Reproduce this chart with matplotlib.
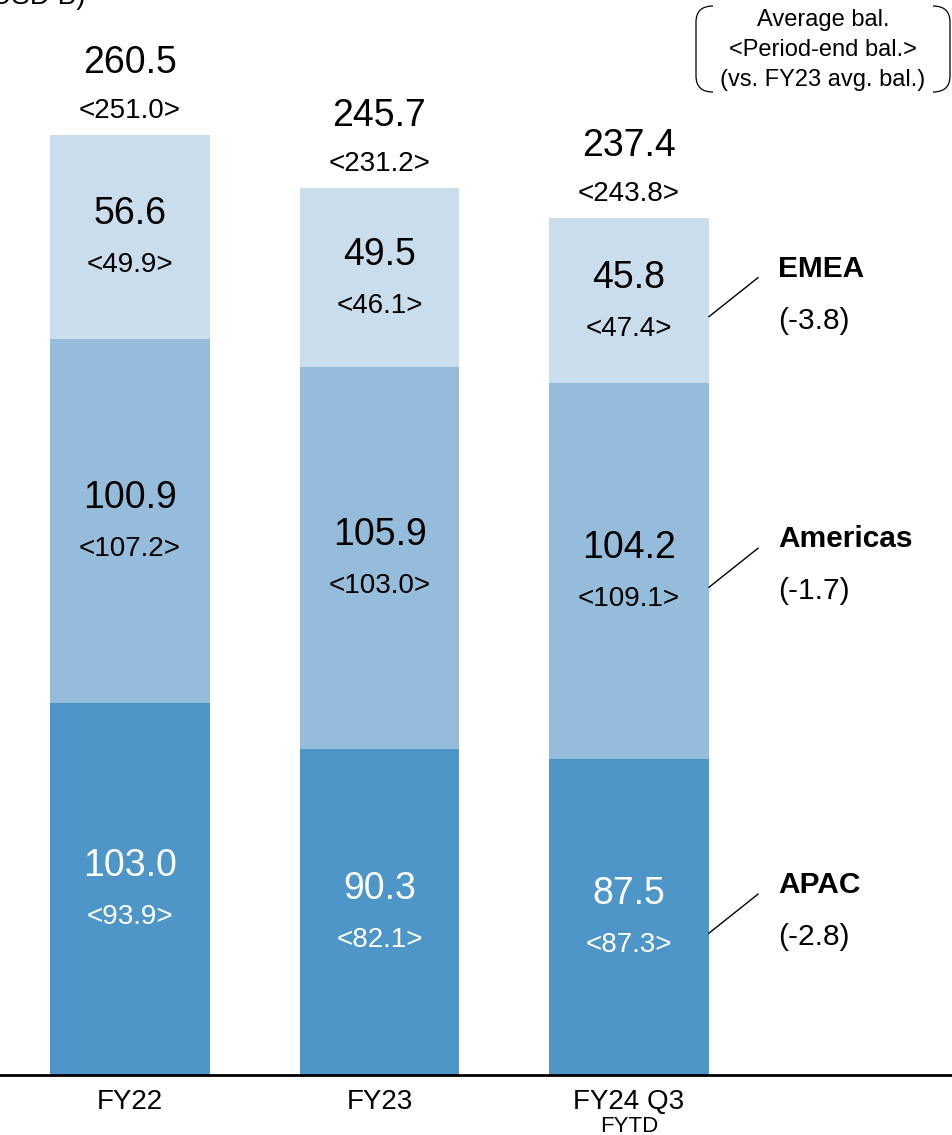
import numpy as np
import matplotlib
matplotlib.use("Agg")
import matplotlib.pyplot as plt
from matplotlib.path import Path
from matplotlib.patches import PathPatch

plt.rcParams['font.family'] = ['Liberation Sans', 'DejaVu Sans']

# Datos
periods = ['FY22', 'FY23', 'FY24 Q3']
regions = ['APAC', 'Americas', 'EMEA']
avg_bal = {
    'APAC': [103.0, 90.3, 87.5],
    'Americas': [100.9, 105.9, 104.2],
    'EMEA': [56.6, 49.5, 45.8],
}
end_bal = {
    'APAC': [93.9, 82.1, 87.3],
    'Americas': [107.2, 103.0, 109.1],
    'EMEA': [49.9, 46.1, 47.4],
}
total_avg = [260.5, 245.7, 237.4]
total_end = [251.0, 231.2, 243.8]
change_vs_fy23 = ['(-2.8)', '(-1.7)', '(-3.8)']

colors = {'APAC': '#4f96c8', 'Americas': '#95bcda', 'EMEA': '#c9ddec'}
text_colors = {'APAC': 'white', 'Americas': 'black', 'EMEA': 'black'}

W, H = 953, 1135
fig = plt.figure(figsize=(W / 100, H / 100), dpi=100)

# Eje principal en coordenadas de datos
base_px = 1075
ax = fig.add_axes([0, (H - base_px) / H, 1, base_px / H])
x = np.arange(len(periods))
step = 249.5
width = 160 / step
ax.set_xlim(-130 / step, (W - 130) / step)
px_per_unit = 940 / total_avg[0]
ax.set_ylim(0, base_px / px_per_unit)
ax.axis('off')

bottom = np.zeros(len(periods))
for r in regions:
    vals = np.array(avg_bal[r])
    ax.bar(x, vals, width=width, bottom=bottom, color=colors[r], edgecolor='none')
    for i in range(len(periods)):
        mid = bottom[i] + vals[i] / 2
        ax.annotate(f'{vals[i]:.1f}', (x[i], mid), xytext=(0, 23), textcoords='offset pixels',
                    ha='center', va='center', fontsize=27, color=text_colors[r])
        ax.annotate(f'<{end_bal[r][i]:.1f}>', (x[i], mid), xytext=(0, -28), textcoords='offset pixels',
                    ha='center', va='center', fontsize=20, color=text_colors[r])
    bottom += vals

for i in range(len(periods)):
    ax.annotate(f'{total_avg[i]:.1f}', (x[i], total_avg[i]), xytext=(0, 72), textcoords='offset pixels',
                ha='center', va='center', fontsize=27)
    ax.annotate(f'<{total_end[i]:.1f}>', (x[i], total_avg[i]), xytext=(0, 24), textcoords='offset pixels',
                ha='center', va='center', fontsize=20)

ax.axhline(0, color='black', linewidth=2, clip_on=False)

# Etiquetas de region a la derecha de la ultima barra
bottom = np.zeros(len(periods))
last = len(periods) - 1
for r, chg in zip(regions, change_vs_fy23):
    v = avg_bal[r][last]
    mid = bottom[last] + v / 2
    edge = x[last] + width / 2
    ax.plot([edge, edge + 49 / step], [mid - 16 / px_per_unit, mid + 23 / px_per_unit],
            color='black', linewidth=1)
    ax.text(edge + 69 / step, mid + 32 / px_per_unit, r, ha='left', va='center',
            fontsize=21.5, fontweight='bold')
    ax.text(edge + 69 / step, mid - 20 / px_per_unit, chg, ha='left', va='center', fontsize=21.5)
    bottom[last] += v

# Etiquetas del eje x
for i, p in enumerate(periods):
    fig.text((130 + i * step) / W, 1 - 1102 / H, p, ha='center', va='center', fontsize=20)
fig.text((130 + 2 * step) / W, 1 - 1126 / H, 'FYTD', ha='center', va='center', fontsize=16)

# Unidad (recortada arriba, como en el original)
fig.text(85 / W, 1 - 4 / H, '(USD B)', ha='right', va='baseline', fontsize=20)

# Caja de leyenda
lx = fig.add_axes([0, 0, 1, 1])
lx.set_xlim(0, W)
lx.set_ylim(H, 0)
lx.axis('off')
for x0, x1 in [(713, 696), (933, 950)]:
    verts = [(x0, 6), (x1, 6), (x1, 22), (x1, 76), (x1, 92), (x0, 92)]
    codes = [Path.MOVETO, Path.CURVE3, Path.CURVE3, Path.LINETO, Path.CURVE3, Path.CURVE3]
    lx.add_patch(PathPatch(Path(verts, codes), facecolor='none', edgecolor='black', linewidth=0.9))
for yy, t in zip([20, 50, 80], ['Average bal.', '<Period-end bal.>', '(vs. FY23 avg. bal.)']):
    lx.text(823, yy, t, ha='center', va='center', fontsize=17)

fig.savefig('out.png', dpi=100)
